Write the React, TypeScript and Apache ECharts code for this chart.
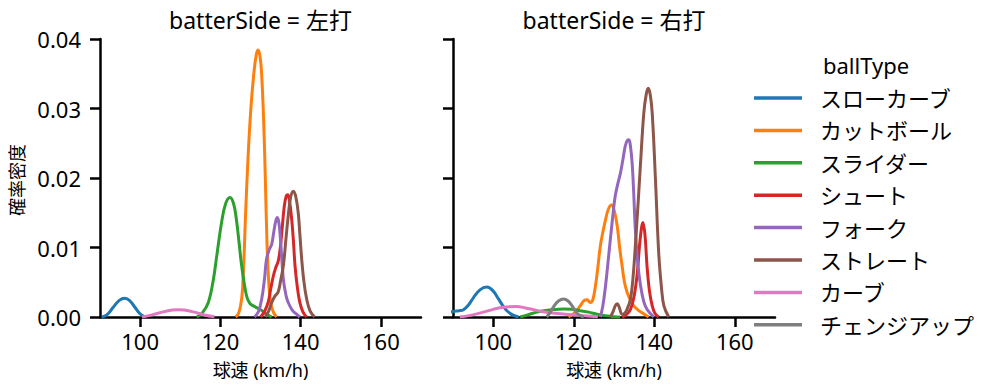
import React, { useEffect, useRef } from "react";
import * as echarts from "echarts";

const FONT = "'Noto Sans', 'Noto Sans CJK JP', sans-serif";

const ballTypes = ["スローカーブ", "カットボール", "スライダー", "シュート", "フォーク", "ストレート", "カーブ", "チェンジアップ"];
const colors = ["#1f77b4", "#ff7f0e", "#2ca02c", "#d62728", "#9467bd", "#8c564b", "#e377c2", "#7f7f7f"];
const panelTitles = ["batterSide = 左打", "batterSide = 右打"];
const xTicks = [100, 120, 140, 160];
const yTicks = [0, 0.01, 0.02, 0.03, 0.04];

// 左打 panel
const L_slowCurve = [[90.4, 0], [91.7, 0.0003], [93.3, 0.0014], [94.8, 0.0024], [96.2, 0.0027], [97.5, 0.0023], [98.7, 0.0014], [99.9, 0.0005], [100.9, 0.0001]];
const L_cutter = [[123.8, 0], [124.6, 0.0006], [125.3, 0.0026], [125.7, 0.0060], [126.3, 0.0150], [126.9, 0.0230], [127.6, 0.0300], [128.3, 0.0348], [128.9, 0.0376], [129.4, 0.0384], [129.9, 0.0374], [130.3, 0.0348], [130.8, 0.0280], [131.2, 0.0200], [131.6, 0.0110], [132.0, 0.0055], [132.5, 0.0022], [133.2, 0.0007], [134.0, 0]];
const L_slider = [[114.1, 0], [115.5, 0.0006], [117.0, 0.0021], [118.2, 0.0052], [119.1, 0.0088], [120.3, 0.0136], [121.3, 0.0163], [122.4, 0.0172], [123.3, 0.0163], [124.0, 0.0140], [124.7, 0.0105], [125.3, 0.0074], [126.5, 0.0031], [127.3, 0.0020], [128.2, 0.0016], [129.9, 0.0011], [131.5, 0.0004], [132.8, 0]];
const L_shoot = [[130.0, 0], [131.0, 0.0008], [131.9, 0.0021], [132.6, 0.0042], [133.2, 0.0059], [133.8, 0.0071], [134.4, 0.0080], [134.9, 0.0098], [135.3, 0.0121], [135.9, 0.0158], [136.4, 0.0174], [136.8, 0.0176], [137.2, 0.0168], [137.7, 0.0145], [138.2, 0.0110], [138.6, 0.0074], [139.2, 0.0042], [139.8, 0.0021], [140.6, 0.0007], [141.5, 0]];
const L_fork = [[128.5, 0], [129.5, 0.0008], [130.3, 0.0026], [131.0, 0.0055], [131.5, 0.0083], [132.2, 0.0097], [132.8, 0.0105], [133.3, 0.0122], [133.8, 0.0138], [134.2, 0.0143], [134.6, 0.0135], [135.0, 0.0110], [135.7, 0.0054], [136.4, 0.0030], [136.9, 0.0021], [138.0, 0.0009], [139.0, 0.0004], [139.8, 0]];
const L_straight = [[131.2, 0], [132.0, 0.0008], [132.8, 0.0021], [133.6, 0.0030], [134.4, 0.0036], [135.0, 0.0052], [135.7, 0.0074], [136.3, 0.0110], [136.9, 0.0145], [137.5, 0.0172], [138.2, 0.0181], [138.8, 0.0173], [139.4, 0.0150], [139.8, 0.0120], [140.2, 0.0088], [140.8, 0.0052], [141.5, 0.0026], [142.4, 0.0008], [143.5, 0]];
const L_curve = [[100.5, 0], [103.0, 0.0003], [105.5, 0.0007], [108.0, 0.0010], [109.5, 0.00105], [111.0, 0.0010], [113.5, 0.0007], [116.0, 0.0003], [118.5, 0.00005]];

// 右打 panel
const R_slowCurve = [[88.0, 0.0005], [90.0, 0.0008], [91.5, 0.0009], [92.6, 0.00105], [93.8, 0.0017], [95.1, 0.0028], [96.7, 0.0039], [98.4, 0.0043], [99.9, 0.0038], [101.3, 0.0026], [102.4, 0.0016], [103.4, 0.0009], [104.8, 0.0003], [106.3, 0]];
const R_cutter = [[118.7, 0], [120.0, 0.0005], [121.6, 0.0016], [122.6, 0.0024], [123.3, 0.0025], [124.1, 0.0021], [124.7, 0.0024], [125.4, 0.0045], [126.0, 0.0072], [126.6, 0.0102], [127.3, 0.0124], [127.9, 0.0140], [128.6, 0.0155], [129.4, 0.0161], [130.1, 0.0152], [130.8, 0.0131], [131.4, 0.0100], [132.0, 0.0074], [132.6, 0.0050], [133.3, 0.0035], [134.1, 0.0024], [134.9, 0.0016], [136.0, 0.0010], [137.0, 0.0006], [138.6, 0]];
const R_slider = [[106.7, 0], [108.5, 0.0003], [110.8, 0.0007], [113.0, 0.00095], [115.0, 0.00108], [117.5, 0.00115], [119.5, 0.0011], [121.6, 0.0009], [123.7, 0.0007], [125.8, 0.0004], [127.8, 0.0002], [130.0, 0.00005], [131.5, 0]];
const R_shoot = [[132.0, 0], [133.0, 0.0003], [134.1, 0.0011], [135.0, 0.0030], [135.8, 0.0064], [136.5, 0.0112], [137.2, 0.0136], [137.7, 0.0118], [138.2, 0.0074], [138.8, 0.0038], [139.5, 0.0016], [140.2, 0.0005], [141.1, 0]];
const R_fork = [[126.6, 0], [127.2, 0.0015], [127.9, 0.0045], [128.5, 0.0078], [129.1, 0.0112], [129.7, 0.0145], [130.3, 0.0174], [131.0, 0.0193], [131.6, 0.0207], [132.2, 0.0226], [132.8, 0.0246], [133.3, 0.0254], [133.7, 0.0255], [134.1, 0.0245], [134.5, 0.0222], [134.9, 0.0178], [135.3, 0.0126], [135.9, 0.0078], [136.6, 0.0045], [137.4, 0.0022], [138.2, 0.0011], [139.9, 0]];
const R_straight = [[129.1, 0], [129.8, 0.0008], [130.3, 0.0016], [130.8, 0.0019], [131.3, 0.0014], [132.0, 0.0004], [132.6, 0.0005], [133.3, 0.0012], [134.1, 0.0026], [134.7, 0.0055], [135.3, 0.0102], [136.0, 0.0165], [136.6, 0.0222], [137.4, 0.0293], [138.0, 0.0320], [138.5, 0.0329], [139.0, 0.0320], [139.5, 0.0293], [140.3, 0.0198], [141.1, 0.0093], [141.8, 0.0042], [142.4, 0.0016], [143.6, 0]];
const R_curve = [[91.7, 0], [94.0, 0.0002], [97.5, 0.0007], [100.0, 0.0011], [102.5, 0.0014], [105.9, 0.0015], [108.0, 0.0013], [110.0, 0.00105], [112.0, 0.0008], [114.2, 0.0006], [118.0, 0.0004], [122.0, 0.0002], [126.0, 0.00003]];
const R_changeup = [[113.3, 0], [114.2, 0.0007], [115.0, 0.0015], [116.2, 0.0023], [117.5, 0.0026], [118.6, 0.0023], [119.6, 0.0016], [120.6, 0.0007], [121.6, 0.0002], [122.5, 0]];

const leftPanel = [L_slowCurve, L_cutter, L_slider, L_shoot, L_fork, L_straight, L_curve, null];
const rightPanel = [R_slowCurve, R_cutter, R_slider, R_shoot, R_fork, R_straight, R_curve, R_changeup];

export default function App() {
  const ref = useRef<HTMLDivElement>(null);
  useEffect(() => {
    if (!ref.current) return;
    const chart = echarts.init(ref.current, null, { renderer: "svg" });
    const axisLineStyle = { color: "#000", width: 2.5 };
    const series: any[] = [];
    [leftPanel, rightPanel].forEach((panel, pi) => {
      panel.forEach((data, i) => {
        if (!data) return;
        series.push({
          type: "line",
          name: ballTypes[i],
          xAxisIndex: pi,
          yAxisIndex: pi,
          data,
          smooth: 0.4,
          symbol: "none",
          clip: true,
          lineStyle: { color: colors[i], width: 3 },
          itemStyle: { color: colors[i] },
          z: 2 + i,
        });
      });
    });
    const text = (t: string, x: number, y: number, size: number, extra: any = {}) => ({
      type: "text",
      x,
      y,
      ...extra,
      style: {
        text: t,
        fontSize: size,
        fontFamily: FONT,
        fill: "#000",
        align: "center",
        verticalAlign: "middle",
        textAlign: "center",
        textVerticalAlign: "middle",
      },
    });
    const option: any = {
      animation: false,
      backgroundColor: "#fff",
      grid: [
        { left: 100, top: 39, width: 321, height: 278 },
        { left: 453, top: 39, width: 322, height: 278 },
      ],
      xAxis: [0, 1].map((i) => ({
        gridIndex: i,
        type: "value",
        min: 90,
        max: 170,
        axisLine: { show: true, lineStyle: axisLineStyle },
        axisTick: { show: true, customValues: xTicks, length: 10, lineStyle: axisLineStyle },
        axisLabel: { customValues: xTicks, margin: 13, fontSize: 22, color: "#000", fontFamily: FONT },
        splitLine: { show: false },
      })),
      yAxis: [0, 1].map((i) => ({
        gridIndex: i,
        type: "value",
        min: 0,
        max: 0.04,
        interval: 0.01,
        axisLine: { show: true, lineStyle: axisLineStyle },
        axisTick: { show: true, customValues: yTicks, length: 10, lineStyle: axisLineStyle },
        axisLabel: {
          show: i === 0,
          customValues: yTicks,
          formatter: (v: number) => v.toFixed(2),
          margin: 19,
          fontSize: 22,
          color: "#000",
          fontFamily: FONT,
        },
        splitLine: { show: false },
      })),
      legend: {
        orient: "vertical",
        left: 754,
        top: 87,
        padding: 0,
        icon: "rect",
        itemWidth: 48,
        itemHeight: 3.5,
        itemGap: 10.4,
        data: ballTypes,
        textStyle: { fontSize: 22, lineHeight: 22, height: 22, fontFamily: FONT, color: "#000", padding: [0, 0, 0, 13] },
        selectedMode: false,
      },
      series,
      graphic: [
        text(panelTitles[0], 260.5, 20, 23),
        text(panelTitles[1], 614, 20, 23),
        text("球速 (km/h)", 260.5, 370, 18),
        text("球速 (km/h)", 614, 370, 18),
        text("確率密度", 17, 180, 18, { rotation: Math.PI / 2 }),
        text("ballType", 866, 65, 22),
      ],
    };
    chart.setOption(option);
    return () => chart.dispose();
  }, []);
  return <div ref={ref} style={{ width: 999, height: 391, position: "absolute", left: 0, top: 0 }} />;
}
